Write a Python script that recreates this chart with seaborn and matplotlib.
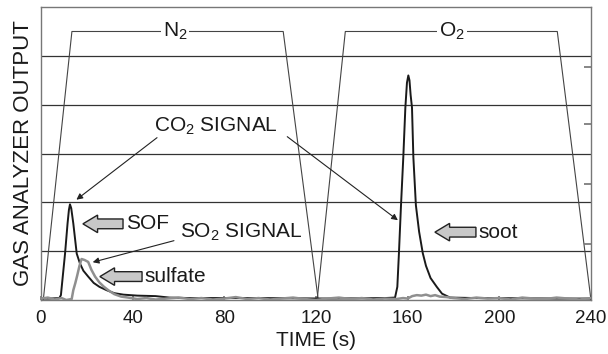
import matplotlib
matplotlib.use("Agg")
import matplotlib.pyplot as plt
import seaborn as sns
import pandas as pd

# gas analyzer trace
co2_t = [0, 4, 8, 8.7, 9.5, 10.5, 11.6, 12.2, 12.65, 13.2,
         14.1, 15.6, 17, 18.5, 20.6, 23, 25.5, 28.7, 32, 36,
         42, 50, 56, 65, 80, 95, 110, 125, 140, 150,
         154.5, 155.5, 156.2, 157.1, 158.1, 159.0, 159.7, 160.3, 160.8, 161.3,
         161.9, 162.5, 163.6, 165, 166.6, 168, 170, 172.7, 175, 178.5,
         190, 210, 225, 240]
co2_y = [0.03, 0.03, 0.04, 0.1, 0.48, 0.95, 1.57, 1.85, 1.96, 1.88,
         1.57, 0.95, 0.75, 0.6, 0.48, 0.35, 0.27, 0.2, 0.14, 0.11,
         0.09, 0.08, 0.05, 0.04, 0.04, 0.04, 0.035, 0.03, 0.035, 0.04,
         0.05, 0.27, 0.96, 1.94, 2.92, 3.94, 4.45, 4.6, 4.5, 4.2,
         3.94, 2.92, 1.94, 1.4, 0.96, 0.7, 0.45, 0.27, 0.13, 0.05,
         0.04, 0.035, 0.03, 0.03]

so2_t = [0, 3, 6, 9, 11, 13.4, 14.1, 15, 15.8, 16.8,
         17.7, 19, 20.6, 22, 23.6, 25.5, 27.5, 29.4, 32, 35,
         38, 42, 46, 50, 55, 60, 65, 70, 75, 80,
         85, 90, 95, 100, 105, 110, 115, 120, 125, 130,
         135, 140, 145, 150, 155, 158, 160, 162, 164, 166,
         168, 170, 172, 174, 177, 180, 185, 190, 195, 200,
         205, 210, 215, 220, 225, 230, 235, 240]
so2_y = [0.03, 0.05, 0.01, 0.04, 0.0, 0.02, 0.2, 0.35, 0.5, 0.7,
         0.84, 0.82, 0.78, 0.62, 0.48, 0.36, 0.27, 0.2, 0.12, 0.07,
         0.05, 0.02, 0.04, 0.01, 0.03, 0.05, 0.02, 0.04, 0.01, 0.03,
         0.06, 0.02, 0.04, 0.01, 0.03, 0.05, 0.02, 0.0, 0.03, 0.05,
         0.02, 0.04, 0.01, 0.03, 0.02, 0.04, 0.03, 0.08, 0.1, 0.09,
         0.11, 0.08, 0.1, 0.07, 0.06, 0.04, 0.02, 0.05, 0.03, 0.04,
         0.01, 0.05, 0.03, 0.02, 0.05, 0.03, 0.01, 0.04]

# purge gas profile (N2 phase then O2 phase)
n2_t = [1, 13.5, 105.7, 121]
n2_y = [0, 5.5, 5.5, 0]
o2_t = [120.5, 132.8, 225.3, 240]
o2_y = [0, 5.5, 5.5, 0]

x_ticks = [0, 40, 80, 120, 160, 200, 240]
grid_levels = [1, 2, 3, 4, 5]
right_ticks = [1.15, 2.38, 3.61, 4.77]

sns.set_theme(style="white")
plt.rcParams['font.family'] = ['Liberation Sans', 'DejaVu Sans']
plt.rcParams['mathtext.fontset'] = 'custom'
plt.rcParams['mathtext.rm'] = 'Liberation Sans'
plt.rcParams['mathtext.it'] = 'Liberation Sans'

fig, ax = plt.subplots(figsize=(6.08, 3.54), dpi=100)
fig.subplots_adjust(left=0.0674, right=0.972, bottom=0.1525, top=0.980)

for lvl in grid_levels:
    ax.axhline(lvl, color='#333333', lw=0.9, zorder=1)

profile_color = '#444444'
sns.lineplot(x=n2_t, y=n2_y, ax=ax, color=profile_color, lw=0.8, sort=False, zorder=2)
sns.lineplot(x=o2_t, y=o2_y, ax=ax, color=profile_color, lw=0.8, sort=False, zorder=2)

co2 = pd.DataFrame({'time': co2_t, 'signal': co2_y})
so2 = pd.DataFrame({'time': so2_t, 'signal': so2_y})
sns.lineplot(data=co2, x='time', y='signal', ax=ax, color='#1a1a1a', lw=1.4, zorder=4)
sns.lineplot(data=so2, x='time', y='signal', ax=ax, color='#8f8f8f', lw=1.8, zorder=5)

txt = dict(fontsize=15, color='#1a1a1a', zorder=6)
box = dict(facecolor='white', edgecolor='none', pad=1.5)
ax.text(58.5, 5.5, r'N$_2$', ha='center', va='center', bbox=box, **txt)
ax.text(179.5, 5.5, r'O$_2$', ha='center', va='center', bbox=box, **txt)
ax.text(76.5, 3.55, r'CO$_2$ SIGNAL', ha='center', va='center', **txt)
ax.text(87.3, 1.39, r'SO$_2$ SIGNAL', ha='center', va='center', **txt)

pointer = dict(arrowstyle='-|>', color='#222222', lw=0.8, mutation_scale=9)
ax.annotate('', xy=(14.5, 2.02), xytext=(51.6, 3.36), arrowprops=pointer)
ax.annotate('', xy=(156.7, 1.6), xytext=(106.5, 3.38), arrowprops=pointer)
ax.annotate('', xy=(21.4, 0.76), xytext=(59.2, 1.23), arrowprops=pointer)

# block arrows marking the fractions
blocks = [('SOF', 18.3, 35.8, 1.56), ('sulfate', 25.7, 44.1, 0.48), ('soot', 171.9, 189.8, 1.39)]
for label, tip, tail, yy in blocks:
    ax.arrow(tail, yy, tip - tail, 0, width=0.2, head_width=0.36, head_length=6.4,
             length_includes_head=True, fc='#c8c8c8', ec='#222222', lw=1, zorder=6)
    ax.text(tail + 1.2, yy, label, ha='left', va='center', **txt)

ax.set_xlim(0, 240)
ax.set_ylim(0, 6)
ax.set_xticks(x_ticks)
ax.set_yticks([])
ax.tick_params(axis='x', direction='in', length=3, color='#777777', labelsize=13.5, pad=7,
               labelcolor='#1a1a1a', bottom=True)
ax.set_xlabel('TIME (s)', fontsize=15, color='#1a1a1a', labelpad=3)
ax.set_ylabel('GAS ANALYZER OUTPUT', fontsize=16, color='#1a1a1a', labelpad=5)
for sp in ax.spines.values():
    sp.set_color('#777777')
    sp.set_linewidth(1)

ax2 = ax.twinx()
ax2.set_ylim(0, 6)
ax2.set_yticks(right_ticks)
ax2.set_yticklabels([])
ax2.tick_params(axis='y', direction='in', length=5, color='#777777', right=True)
for sp in ax2.spines.values():
    sp.set_visible(False)

fig.savefig('out.png', dpi=100)
